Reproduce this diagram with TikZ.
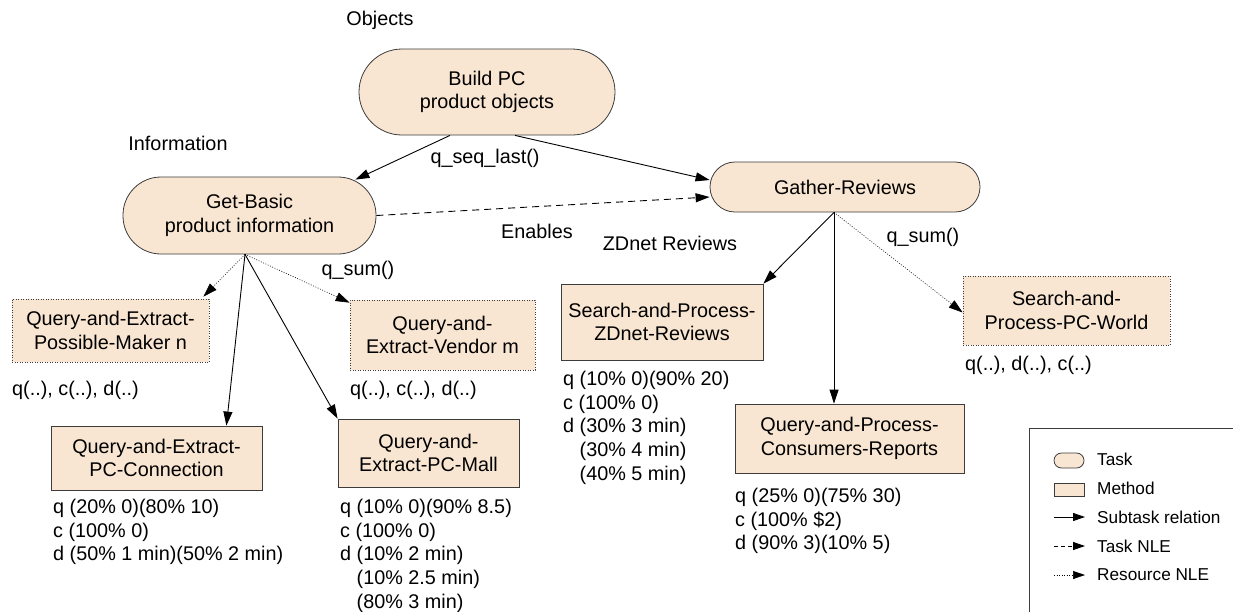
\documentclass[tikz,border=0pt]{standalone}
\usepackage{fontspec}
\setmainfont{Liberation Sans}
\usetikzlibrary{arrows.meta,calc}
\definecolor{beige}{RGB}{249,230,210}
\definecolor{bordr}{RGB}{60,60,60}
\begin{document}
\begin{tikzpicture}[x=1pt,y=-1pt,
  every node/.style={font=\fontsize{19.8}{23.7}\selectfont, inner sep=0pt},
  pill/.style={draw=bordr, fill=beige, line width=0.8pt, align=center},
  meth/.style={draw=bordr, fill=beige, line width=0.8pt, align=center},
  rmeth/.style={draw=bordr, fill=beige, line width=0.7pt, dash pattern=on 0.9pt off 1.6pt, align=center},
  sub/.style={-{Triangle[length=14pt,width=9pt]}, line width=0.9pt},
  tnle/.style={sub, dash pattern=on 7pt off 5pt},
  rnle/.style={-{Triangle[length=14pt,width=9pt]}, line width=0.6pt, dash pattern=on 0.9pt off 1.6pt},
  annot/.style={align=left, anchor=north west},
  legtext/.style={font=\fontsize{17.2}{20}\selectfont, anchor=west}
]
\useasboundingbox (0,0) rectangle (1233,611);
\clip (0,0) rectangle (1233,611);

% tasks
\node[pill, minimum width=256pt, minimum height=86pt, rounded corners=43pt] (bp) at (487,92) {Build PC\\product objects};
\node[pill, minimum width=253pt, minimum height=77pt, rounded corners=38pt] (gb) at (249.5,215.5) {Get-Basic\\product information};
\node[pill, minimum width=270pt, minimum height=50pt, rounded corners=25pt] (ga) at (845,187) {Gather-Reviews};

% methods
\node[rmeth, minimum width=197pt, minimum height=63pt] (mk) at (110.5,330.5) {Query-and-Extract-\\Possible-Maker n};
\node[rmeth, minimum width=185pt, minimum height=70pt] (vd) at (442.5,335) {Query-and-\\Extract-Vendor m};
\node[meth, minimum width=211pt, minimum height=64pt] (pcc) at (156.5,458) {Query-and-Extract-\\PC-Connection};
\node[meth, minimum width=181pt, minimum height=68pt] (mall) at (428.5,453) {Query-and-\\Extract-PC-Mall};
\node[meth, minimum width=202pt, minimum height=76pt] (zd) at (662,322) {Search-and-Process-\\ZDnet-Reviews};
\node[meth, minimum width=229pt, minimum height=69pt] (cr) at (849.5,438.5) {Query-and-Process-\\Consumers-Reports};
\node[rmeth, minimum width=207pt, minimum height=69pt] (pw) at (1066.5,310.5) {Search-and-\\Process-PC-World};

% labels
\node (lobj) at (380,20) {Objects};
\node (linf) at (178,143) {Information};
\node (lseq) at (485,158) {q\_seq\_last()};
\node (lena) at (537,231) {Enables};
\node (lzd) at (670,243) {ZDnet Reviews};
\node (lqs1) at (358,270) {q\_sum()};
\node (lqs2) at (923,237) {q\_sum()};

% annotations
\node[anchor=west] (amk) at (12,390) {q(..), c(..), d(..)};
\node[anchor=west] (avd) at (350,390) {q(..), c(..), d(..)};
\node[anchor=west] (apw) at (965,365) {q(..), d(..), c(..)};
\node[annot] (apcc) at (53,499) {q (20\% 0)(80\% 10)\\c (100\% 0)\\d (50\% 1 min)(50\% 2 min)};
\node[annot] (amall) at (340,499) {q (10\% 0)(90\% 8.5)\\c (100\% 0)\\d (10\% 2 min)\\\hphantom{d\ }(10\% 2.5 min)\\\hphantom{d\ }(80\% 3 min)};
\node[annot] (azd) at (563,371) {q (10\% 0)(90\% 20)\\c (100\% 0)\\d (30\% 3 min)\\\hphantom{d\ }(30\% 4 min)\\\hphantom{d\ }(40\% 5 min)};
\node[annot] (acr) at (735,488) {q (25\% 0)(75\% 30)\\c (100\% \$2)\\d (90\% 3)(10\% 5)};

% connectors
\draw[sub] ([xshift=-37pt]bp.south) -- ($(gb.north east)+(-21,3)$);
\draw[sub] ([xshift=28pt]bp.south) -- ([yshift=7pt]ga.west);
\draw[tnle] (gb.east) -- ([yshift=-10pt]ga.west);
\coordinate (gbs) at ([xshift=-4.5pt]gb.south);
\draw[rnle] (gbs) -- ($(mk.north east)+(-6,-2)$);
\draw[sub] (gbs) -- ([xshift=-36pt]pcc.north east);
\draw[sub] (gbs) -- (mall.north west);
\draw[rnle] (gbs) -- ($(vd.north west)+(0,3)$);
\coordinate (gas) at ([xshift=-11pt]ga.south);
\draw[sub] (gas) -- (zd.north east);
\draw[sub] (gas) -- (gas |- cr.north);
\draw[rnle] (gas) -- ([yshift=-2pt]pw.west);

% legend
\draw[bordr, line width=0.8pt] (1029,428) rectangle (1245,625);
\node[draw=bordr, fill=beige, line width=0.8pt, minimum width=30pt, minimum height=15pt, rounded corners=7.5pt] (lgt) at (1069,460.5) {};
\node[legtext] (lgtt) at (1097,459) {Task};
\node[draw=bordr, fill=beige, line width=0.8pt, minimum width=30pt, minimum height=13pt] (lgm) at (1069,489.5) {};
\node[legtext] (lgmt) at (1097,488) {Method};
\coordinate (l1a) at (1054,517); \coordinate (l1b) at (1085,517);
\draw[-{Triangle[length=12pt,width=8pt]}, line width=0.9pt] (l1a) -- (l1b);
\node[legtext] (lgst) at (1097,517) {Subtask relation};
\coordinate (l2a) at (1054,546); \coordinate (l2b) at (1085,546);
\draw[-{Triangle[length=12pt,width=8pt]}, line width=0.9pt, dash pattern=on 4pt off 3pt] (l2a) -- (l2b);
\node[legtext] (lgtn) at (1097,546) {Task NLE};
\coordinate (l3a) at (1054,575); \coordinate (l3b) at (1085,575);
\draw[-{Triangle[length=12pt,width=8pt]}, line width=0.6pt, dash pattern=on 0.9pt off 1.6pt] (l3a) -- (l3b);
\node[legtext] (lgrn) at (1097,575) {Resource NLE};
\end{tikzpicture}
\end{document}
